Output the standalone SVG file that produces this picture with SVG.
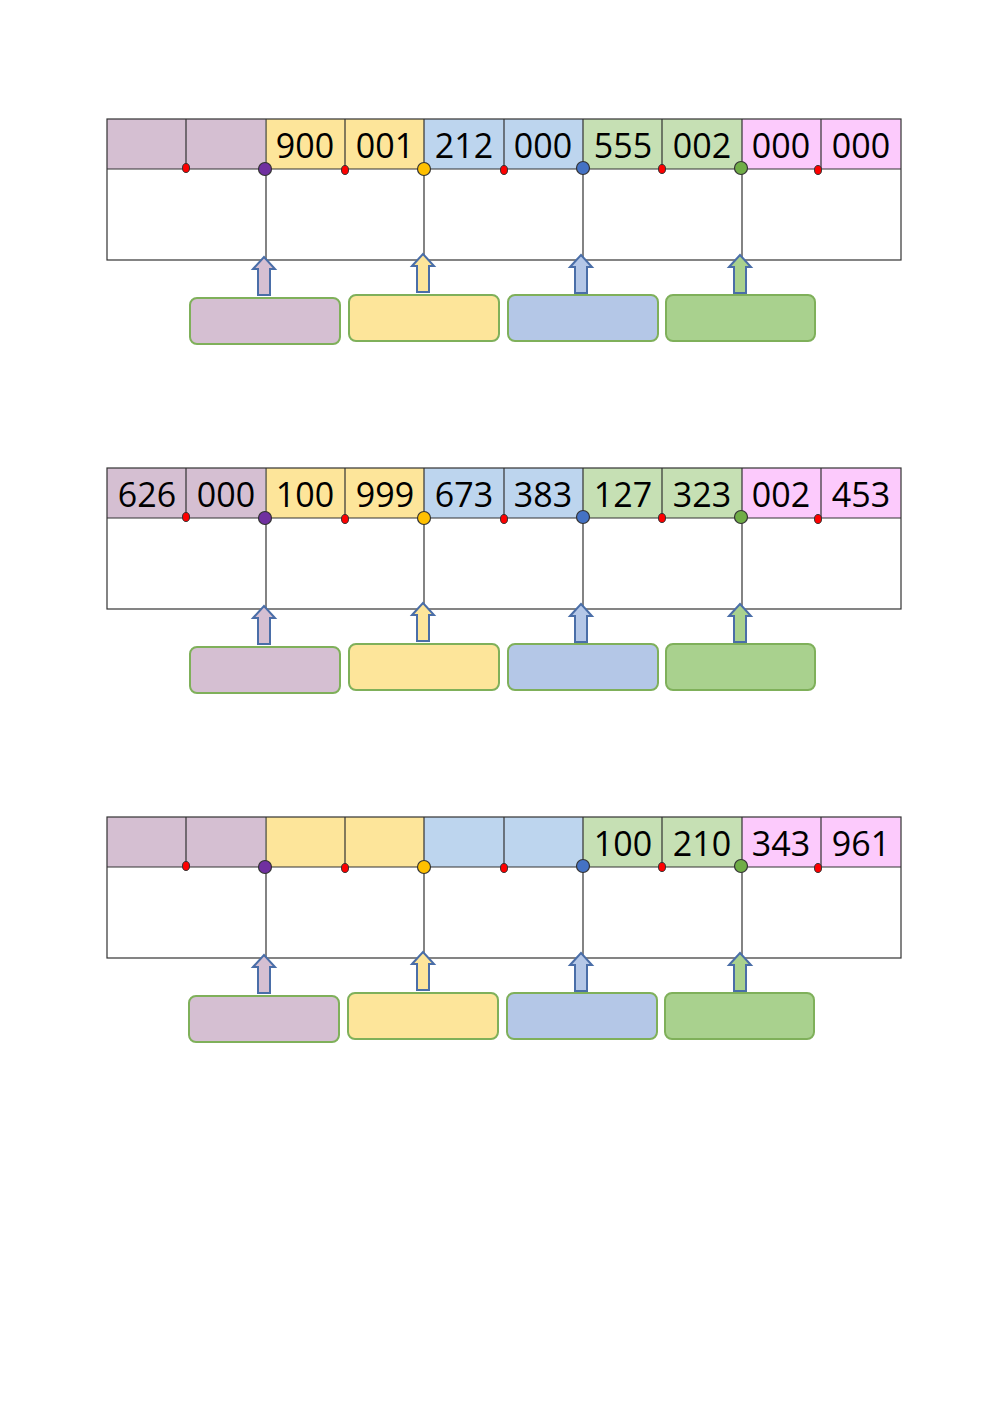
<svg xmlns="http://www.w3.org/2000/svg" xmlns:xlink="http://www.w3.org/1999/xlink" width="1000" height="1413" viewBox="0 0 1000 1413">
<style>
.ln{stroke:#333;stroke-width:1.2;fill:none}
.p{fill:#d5bfd2}.y{fill:#fde59a}.b{fill:#bdd5ee}.g{fill:#c6e0b4}.k{fill:#fccafc}
.bx{stroke:#7fb05a;stroke-width:2}
.ar{stroke:#4a6ea8;stroke-width:2}
.rd{fill:#ff0000;stroke:#333;stroke-width:1}
.dt{stroke:#333;stroke-width:1.2}
text{font-family:"Open Sans","Liberation Sans",sans-serif;font-size:34px;fill:#000;text-anchor:middle}
</style>
<defs>
<g id="frame">
<rect x="107" y="119" width="158" height="50" class="p"/>
<rect x="266" y="119" width="158" height="50" class="y"/>
<rect x="424" y="119" width="159" height="50" class="b"/>
<rect x="583" y="119" width="159" height="50" class="g"/>
<rect x="742" y="119" width="159" height="50" class="k"/>
<rect x="107" y="119" width="794" height="141" class="ln"/>
<path class="ln" d="M107 169H901M186 119V169M345 119V169M504 119V169M662 119V169M821 119V169M266 119V260M424 119V260M583 119V260M742 119V260"/>
<ellipse cx="186" cy="168" rx="3.5" ry="4.5" class="rd"/>
<ellipse cx="345" cy="170" rx="3.5" ry="4.5" class="rd"/>
<ellipse cx="504" cy="170" rx="3.5" ry="4.5" class="rd"/>
<ellipse cx="662" cy="169" rx="3.5" ry="4.5" class="rd"/>
<ellipse cx="818" cy="170" rx="3.5" ry="4.5" class="rd"/>
<circle cx="265" cy="169" r="6.5" fill="#7030a0" class="dt"/>
<circle cx="424" cy="169" r="6.5" fill="#ffc000" class="dt"/>
<circle cx="583" cy="168" r="6.5" fill="#4472c4" class="dt"/>
<circle cx="741" cy="168" r="6.5" fill="#70ad47" class="dt"/>
</g>
<path id="arr" d="M-11 12L0 0L11 12H6V38H-6V12Z"/>
</defs>
<g id="table1">
<use xlink:href="#frame"/>
<text x="305" y="158">900</text><text x="385" y="158">001</text>
<text x="464" y="158">212</text><text x="543" y="158">000</text>
<text x="623" y="158">555</text><text x="702" y="158">002</text>
<text x="781" y="158">000</text><text x="861" y="158">000</text>
</g>
<g id="table2" transform="translate(0,349)">
<use xlink:href="#frame"/>
<text x="147" y="158">626</text><text x="226" y="158">000</text>
<text x="305" y="158">100</text><text x="385" y="158">999</text>
<text x="464" y="158">673</text><text x="543" y="158">383</text>
<text x="623" y="158">127</text><text x="702" y="158">323</text>
<text x="781" y="158">002</text><text x="861" y="158">453</text>
</g>
<g id="table3" transform="translate(0,698)">
<use xlink:href="#frame"/>
<text x="623" y="158">100</text><text x="702" y="158">210</text>
<text x="781" y="158">343</text><text x="861" y="158">961</text>
</g>
<g id="connectors">
<use xlink:href="#arr" x="264" y="257" fill="#d5bfd2" class="ar"/>
<use xlink:href="#arr" x="423" y="254" fill="#fde59a" class="ar"/>
<use xlink:href="#arr" x="581" y="255" fill="#b4c7e7" class="ar"/>
<use xlink:href="#arr" x="740" y="255" fill="#a9d18e" class="ar"/>
<use xlink:href="#arr" x="264" y="606" fill="#d5bfd2" class="ar"/>
<use xlink:href="#arr" x="423" y="603" fill="#fde59a" class="ar"/>
<use xlink:href="#arr" x="581" y="604" fill="#b4c7e7" class="ar"/>
<use xlink:href="#arr" x="740" y="604" fill="#a9d18e" class="ar"/>
<use xlink:href="#arr" x="264" y="955" fill="#d5bfd2" class="ar"/>
<use xlink:href="#arr" x="423" y="952" fill="#fde59a" class="ar"/>
<use xlink:href="#arr" x="581" y="953" fill="#b4c7e7" class="ar"/>
<use xlink:href="#arr" x="740" y="953" fill="#a9d18e" class="ar"/>
</g>
<g id="boxes1">
<rect x="190" y="298" width="150" height="46" rx="7" fill="#d5bfd2" class="bx"/>
<rect x="349" y="295" width="150" height="46" rx="7" fill="#fde59a" class="bx"/>
<rect x="508" y="295" width="150" height="46" rx="7" fill="#b4c7e7" class="bx"/>
<rect x="666" y="295" width="149" height="46" rx="7" fill="#a9d18e" class="bx"/>
</g>
<g id="boxes2">
<rect x="190" y="647" width="150" height="46" rx="7" fill="#d5bfd2" class="bx"/>
<rect x="349" y="644" width="150" height="46" rx="7" fill="#fde59a" class="bx"/>
<rect x="508" y="644" width="150" height="46" rx="7" fill="#b4c7e7" class="bx"/>
<rect x="666" y="644" width="149" height="46" rx="7" fill="#a9d18e" class="bx"/>
</g>
<g id="boxes3">
<rect x="189" y="996" width="150" height="46" rx="7" fill="#d5bfd2" class="bx"/>
<rect x="348" y="993" width="150" height="46" rx="7" fill="#fde59a" class="bx"/>
<rect x="507" y="993" width="150" height="46" rx="7" fill="#b4c7e7" class="bx"/>
<rect x="665" y="993" width="149" height="46" rx="7" fill="#a9d18e" class="bx"/>
</g>
</svg>
